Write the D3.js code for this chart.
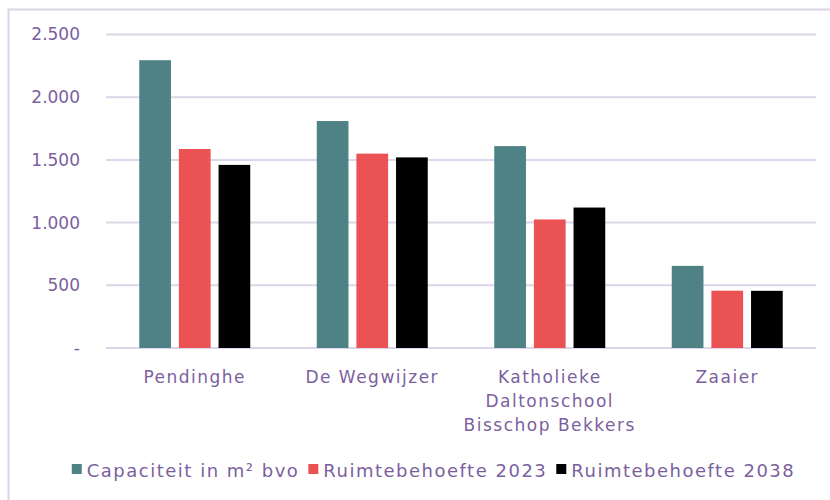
<!DOCTYPE html>
<html lang="nl">
<head>
<meta charset="UTF-8">
<title>Capaciteit en ruimtebehoefte</title>
<style>
  body { margin: 0; background: #fff; }
  svg text { font-family: "DejaVu Sans", sans-serif; fill: #7b5fa0; }
</style>
</head>
<body>
<svg id="chart" width="830" height="500"></svg>
<script src="https://cdnjs.cloudflare.com/ajax/libs/d3/7.9.0/d3.min.js"></script>
<script>
// data
const schools = ["Pendinghe", "De Wegwijzer", "Katholieke Daltonschool Bisschop Bekkers", "Zaaier"];
const schoolLines = [["Pendinghe"], ["De Wegwijzer"], ["Katholieke", "Daltonschool", "Bisschop Bekkers"], ["Zaaier"]];
const seriesNames = ["Capaciteit in m² bvo", "Ruimtebehoefte 2023", "Ruimtebehoefte 2038"];
const capaciteit = [2295, 1810, 1610, 655];
const behoefte2023 = [1587, 1550, 1025, 457];
const behoefte2038 = [1460, 1520, 1120, 456];
const yTicks = [0, 500, 1000, 1500, 2000, 2500];
const colors = ["#4e8284", "#eb5254", "#000000"];

const values = [capaciteit, behoefte2023, behoefte2038];

const svg = d3.select("#chart");
const plotLeft = 106, plotRight = 816, plotTop = 34.5, plotBottom = 348;

// outer frame (runs off the right and bottom edge)
svg.append("rect")
  .attr("x", 8.5).attr("y", 9.5)
  .attr("width", 840).attr("height", 520)
  .attr("fill", "none")
  .attr("stroke", "#dcd3e8")
  .attr("stroke-width", 2);

const x = d3.scaleBand().domain(schools).range([plotLeft, plotRight]);
const xInner = d3.scaleBand().domain(d3.range(3)).range([0, 111]).paddingInner(0.2);
const y = d3.scaleLinear().domain([0, 2500]).range([plotBottom, plotTop]);

// gridlines
svg.append("g")
  .selectAll("line")
  .data(yTicks)
  .join("line")
  .attr("x1", plotLeft).attr("x2", plotRight)
  .attr("y1", d => y(d)).attr("y2", d => y(d))
  .attr("stroke", "#ddd5e9")
  .attr("stroke-width", 2);

// y axis labels
const yAxis = d3.axisLeft(y)
  .tickValues(yTicks)
  .tickSize(0)
  .tickPadding(26)
  .tickFormat(d => d === 0 ? "-" : d3.format(",")(d).replace(",", "."));
svg.append("g")
  .attr("transform", `translate(${plotLeft},0)`)
  .call(yAxis)
  .call(g => g.select(".domain").remove())
  .selectAll("text")
  .attr("font-size", 17)
  .style("font-family", '"DejaVu Sans", sans-serif')
  .attr("fill", "#7b5fa0");

// bars
const groups = svg.append("g")
  .selectAll("g")
  .data(schools)
  .join("g")
  .attr("transform", d => `translate(${x(d) + x.bandwidth() / 2 - 55.5},0)`);

groups.selectAll("rect")
  .data((d, i) => values.map((v, s) => ({ s, v: v[i] })))
  .join("rect")
  .attr("x", d => xInner(d.s))
  .attr("y", d => y(d.v))
  .attr("width", xInner.bandwidth())
  .attr("height", d => y(0) - y(d.v))
  .attr("fill", d => colors[d.s]);

// category labels
svg.append("g")
  .selectAll("text")
  .data(schools)
  .join("text")
  .attr("text-anchor", "middle")
  .attr("font-size", 17)
  .attr("letter-spacing", 1.5)
  .each(function (d, i) {
    d3.select(this).selectAll("tspan")
      .data(schoolLines[i])
      .join("tspan")
      .attr("x", x(d) + x.bandwidth() / 2)
      .attr("y", (t, j) => 383 + j * 24)
      .text(t => t);
  });

// legend
const legend = svg.append("g").attr("transform", "translate(0,477)");
const items = legend.selectAll("g")
  .data(seriesNames)
  .join("g");
items.append("rect")
  .attr("y", -13)
  .attr("width", 10).attr("height", 10)
  .attr("fill", (d, i) => colors[i]);
items.append("text")
  .attr("x", 15)
  .attr("font-size", 18)
  .attr("letter-spacing", 1.5)
  .text(d => d);
const widths = [];
items.each(function () { widths.push(this.getBBox().width); });
const total = d3.sum(widths) + 9 * (widths.length - 1);
let cursor = 67 + (733 - total) / 2;
items.attr("transform", (d, i) => {
  const pos = cursor;
  cursor += widths[i] + 9;
  return `translate(${pos},0)`;
});
</script>
</body>
</html>
